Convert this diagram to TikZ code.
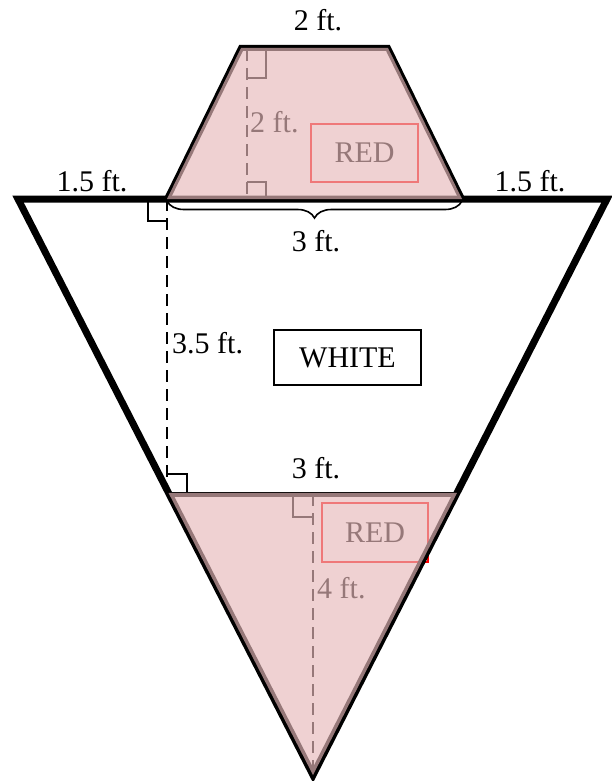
\documentclass[tikz,border=0pt]{standalone}
\usepackage{fontspec}
\setmainfont{Liberation Serif}
\usetikzlibrary{positioning,calc,decorations.pathreplacing}
\definecolor{flagpink}{RGB}{231,185,186}

\begin{document}
\begin{tikzpicture}[
        x=1pt, y=-1pt,
        font=\fontsize{30}{35}\selectfont,
        outline/.style={
            draw=black,
            line width=7pt,
            line join=miter
        },
        overlay/.style={
            fill=flagpink,
            fill opacity=0.65
        },
        heightline/.style={
            draw=black,
            line width=1.8pt,
            dash pattern=on 12pt off 7pt
        },
        rightangle/.style={
            draw=black,
            line width=1.8pt
        },
        colorbox/.style={
            line width=1.8pt,
            inner sep=0pt
        },
        lbl/.style={
            inner sep=0pt
        }
    ]

    % Rahmen
    \path[fill=white] (0,0) rectangle (611,781);
    \useasboundingbox (0,0) rectangle (611,781);

    % Eckpunkte
    \coordinate (tl) at (18,199);
    \coordinate (tr) at (607,199);
    \coordinate (tip) at (313,775);
    \coordinate (trapBL) at (167,199);
    \coordinate (trapTL) at (241,48);
    \coordinate (trapTR) at (388,48);
    \coordinate (trapBR) at (462,199);
    \coordinate (baseL) at ($(tl)!0.5104!(tip)$);
    \coordinate (baseR) at ($(tr)!0.5104!(tip)$);

    % Hoehen (unter dem roten Bereich)
    \draw[heightline] (247,49) -- (247,199);
    \draw[rightangle] (247,78) -| (266,49);
    \draw[rightangle] (247,182) -| (266,199);
    \draw[heightline] (313,494) -- (tip);
    \draw[rightangle] (313,517) -| (293,494);
    \draw[heightline] (trapBL) -- (trapBL |- baseL);
    \draw[rightangle] (148,199) |- (167,221);
    \draw[rightangle] (167,474) -| (187,493);

    % Beschriftungen
    \node[lbl] (topw) at (318,20) {2 ft.};
    \node[lbl, anchor=west] (traph) at (250,122) {2 ft.};
    \node[colorbox, draw=red, minimum width=107pt, minimum height=58pt]
        (redtop) at (364.5,153) {RED};
    \node[lbl] (leftw) at (92,181) {1.5 ft.};
    \node[lbl] (rightw) at (530,181) {1.5 ft.};
    \node[lbl] (bracew) at (316,241) {3 ft.};
    \node[lbl, anchor=west] (whiteh) at (172,343) {3.5 ft.};
    \node[colorbox, draw=black, minimum width=147pt, minimum height=55pt]
        (white) at (347.5,357.5) {WHITE};
    \node[lbl] (basew) at (316,468) {3 ft.};
    \node[colorbox, draw=red, minimum width=106pt, minimum height=59pt]
        (redbot) at (375,532.5) {RED};
    \node[lbl, anchor=west] (tiph) at (317,588) {4 ft.};

    % Umrisse
    \draw[outline, line width=6pt] (trapBL) -- (trapTL) -- (trapTR) -- (trapBR);
    \draw[outline] (tl) -- (tr) -- (tip) -- cycle;
    \draw[outline, line width=5pt] ($(baseL)+(0,2)$) -- ($(baseR)+(0,2)$);
    \draw[line width=1.6pt, decorate,
        decoration={brace, mirror, amplitude=17pt}]
        (167,201) -- (462,201);

    % Rote Flaechen
    \path[overlay] (trapBL) -- (trapTL) -- (trapTR) -- (trapBR) -- cycle;
    \path[overlay] (baseL) -- (baseR) -- (tip) -- cycle;

\end{tikzpicture}
\end{document}
